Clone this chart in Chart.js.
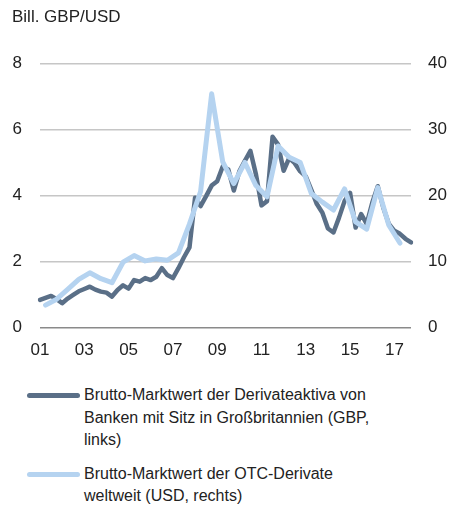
<!DOCTYPE html>
<html lang="de">
<head>
    <meta charset="UTF-8">
    <script src="https://cdn.jsdelivr.net/npm/chart.js"></script>
    <title>Brutto-Marktwert Derivate</title>
    <style>
        body {
            margin: 0;
            background: #fff;
            font-family: "Liberation Sans", Arial, sans-serif;
            color: #222;
        }
        #wrap {
            position: relative;
            width: 449px;
            height: 366px;
        }
        .legend {
            position: absolute;
            left: 0;
            top: 384px;
            width: 449px;
        }
        .item {
            position: relative;
            padding-left: 84px;
            font-size: 16px;
            line-height: 22.5px;
            margin-bottom: 11px;
        }
        .swatch {
            position: absolute;
            left: 27px;
            top: 9px;
            width: 53px;
            height: 5px;
            border-radius: 3px;
        }
    </style>
</head>
<body>
    <div id="wrap"><canvas id="chart"></canvas></div>

    <div class="legend">
        <div class="item"><span class="swatch" style="background:#5a6f87"></span>Brutto-Marktwert der Derivateaktiva von<br>Banken mit Sitz in Großbritannien (GBP,<br>links)</div>
        <div class="item"><span class="swatch" style="background:#b5d3f0"></span>Brutto-Marktwert der OTC-Derivate<br>weltweit (USD, rechts)</div>
    </div>

    <script>
        // quarters 2001 Q1 .. 2017 Q4
        const years = ['01','02','03','04','05','06','07','08','09','10','11','12','13','14','15','16','17'];
        const quarters = [];
        years.forEach(y => { for (let q = 1; q <= 4; q++) quarters.push(y + 'Q' + q); });

        const tickYears = ['01','03','05','07','09','11','13','15','17'];

        // Banken UK, Bill. GBP (linke Achse), quartalsweise
        const gbpValues = [
            0.84, 0.90, 0.96, 0.86, 0.74, 0.88, 0.99, 1.10,
            1.17, 1.24, 1.15, 1.09, 1.06, 0.94, 1.14, 1.28,
            1.18, 1.44, 1.39, 1.50, 1.44, 1.54, 1.80, 1.59,
            1.50, 1.80, 2.13, 2.43, 3.93, 3.68, 3.98, 4.30,
            4.43, 4.88, 4.79, 4.15, 4.73, 5.05, 5.35, 4.64,
            3.70, 3.83, 5.78, 5.54, 4.75, 5.13, 4.98, 4.73,
            4.58, 4.17, 3.74, 3.48, 3.00, 2.88, 3.33, 3.83,
            4.08, 3.03, 3.44, 3.14, 3.78, 4.28, 3.63, 3.14,
            2.93, 2.84, 2.69, 2.58
        ];

        // OTC-Derivate weltweit, Bill. USD (rechte Achse), Juni / Dezember
        const usdValues = [
            null, 3.4,  null, 4.3,  null, 5.8,  null, 7.3,
            null, 8.3,  null, 7.4,  null, 6.8,  null, 9.9,
            null, 10.9, null, 10.1, null, 10.4, null, 10.2,
            null, 11.3, null, 15.7, null, 20.6, null, 35.4,
            null, 25.1, null, 21.8, null, 25.0, null, 21.5,
            null, 19.8, null, 27.5, null, 25.8, null, 25.0,
            null, 20.3, null, 19.0, null, 17.8, null, 21.0,
            null, 16.0, null, 14.9, null, 21.2, null, 15.5,
            null, 12.8, null, null
        ];

        const leftTicks = [0, 2, 4, 6, 8];
        const rightTicks = [0, 10, 20, 30, 40];

        const font = { family: '"Liberation Sans", Arial, sans-serif', size: 17 };

        new Chart(document.getElementById('chart'), {
            type: 'line',
            data: {
                labels: quarters,
                datasets: [{
                    label: 'Brutto-Marktwert der OTC-Derivate weltweit (USD, rechts)',
                    data: usdValues,
                    yAxisID: 'yR',
                    borderColor: '#b5d3f0',
                    borderWidth: 5,
                    pointRadius: 0,
                    tension: 0,
                    spanGaps: true,
                    borderJoinStyle: 'round',
                    borderCapStyle: 'round'
                }, {
                    label: 'Brutto-Marktwert der Derivateaktiva von Banken mit Sitz in Großbritannien (GBP, links)',
                    data: gbpValues,
                    yAxisID: 'yL',
                    borderColor: '#5a6f87',
                    borderWidth: 4.5,
                    pointRadius: 0,
                    tension: 0,
                    borderJoinStyle: 'round',
                    borderCapStyle: 'round'
                }]
            },
            options: {
                responsive: true,
                maintainAspectRatio: false,
                animation: false,
                layout: { padding: { left: 12, right: 1, top: 0, bottom: 0 } },
                plugins: {
                    legend: { display: false },
                    tooltip: { enabled: false },
                    title: {
                        display: true,
                        text: 'Bill. GBP/USD',
                        align: 'start',
                        color: '#222',
                        font: { family: font.family, size: 17, weight: 'normal' },
                        padding: { top: 7, bottom: 36 }
                    }
                },
                scales: {
                    x: {
                        grid: { display: false },
                        border: { display: false },
                        ticks: {
                            color: '#222',
                            font: font,
                            autoSkip: false,
                            maxRotation: 0,
                            padding: 5,
                            callback: function (val, i) {
                                const lab = quarters[i];
                                const y = lab.slice(0, 2);
                                return (lab.endsWith('Q1') && tickYears.includes(y)) ? y : '';
                            }
                        }
                    },
                    yL: {
                        position: 'left',
                        min: leftTicks[0],
                        max: leftTicks[leftTicks.length - 1],
                        afterBuildTicks: s => { s.ticks = leftTicks.map(v => ({ value: v })); },
                        afterFit: s => { s.width = 28; },
                        border: { display: false },
                        grid: {
                            drawTicks: false,
                            lineWidth: 1.5,
                            color: c => (c.tick && c.tick.value === 0) ? '#8a8a8a' : '#c6c6c6'
                        },
                        ticks: { color: '#222', font: font, padding: 18 }
                    },
                    yR: {
                        position: 'right',
                        min: rightTicks[0],
                        max: rightTicks[rightTicks.length - 1],
                        afterBuildTicks: s => { s.ticks = rightTicks.map(v => ({ value: v })); },
                        afterFit: s => { s.width = 37; },
                        border: { display: false },
                        grid: { drawOnChartArea: false, drawTicks: false },
                        ticks: { color: '#222', font: font, padding: 17 }
                    }
                }
            }
        });
    </script>
</body>
</html>
